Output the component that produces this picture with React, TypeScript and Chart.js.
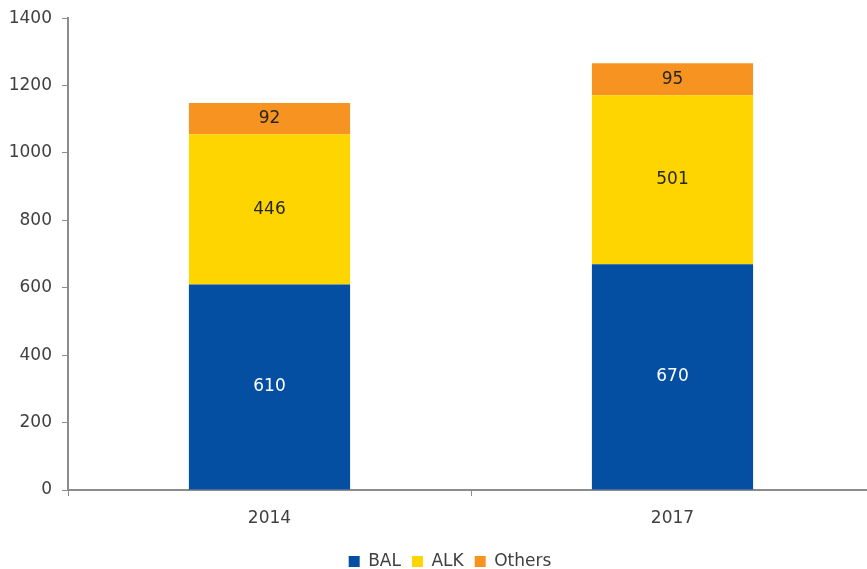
import React, { useEffect, useRef } from "react";
import { Chart, registerables } from "chart.js";

Chart.register(...registerables);

const categories = ["2014", "2017"];
const balValues = [610, 670];
const alkValues = [446, 501];
const othersValues = [92, 95];
const seriesNames = ["BAL", "ALK", "Others"];
const yTicks = [0, 200, 400, 600, 800, 1000, 1200, 1400];

const FONT = "'DejaVu Sans', sans-serif";
const AXIS = "#8c8c8c";

const labelPlugin = {
  id: "barLabels",
  afterLayout(chart: any) {
    const lg = chart.legend;
    if (lg) {
      lg.left += 13;
      lg.right += 13;
    }
  },
  afterDatasetsDraw(chart: any) {
    const ctx = chart.ctx;
    ctx.save();
    ctx.font = `17px ${FONT}`;
    ctx.textAlign = "center";
    ctx.textBaseline = "middle";
    chart.data.datasets.forEach((ds: any, di: number) => {
      const meta = chart.getDatasetMeta(di);
      meta.data.forEach((el: any, i: number) => {
        const p = el.getProps(["x", "y", "base"], true);
        ctx.fillStyle = di === 0 ? "#ffffff" : "#262626";
        ctx.fillText(String(ds.data[i]), p.x, (p.y + p.base) / 2);
      });
    });
    ctx.restore();
  },
};

export default function App() {
  const ref = useRef<HTMLCanvasElement>(null);
  useEffect(() => {
    document.body.style.margin = "0";
    const chart = new Chart(ref.current!, {
      type: "bar",
      data: {
        labels: categories,
        datasets: [
          { label: seriesNames[0], data: balValues, backgroundColor: "#054FA3" },
          { label: seriesNames[1], data: alkValues, backgroundColor: "#FFD500" },
          { label: seriesNames[2], data: othersValues, backgroundColor: "#F79320" },
        ],
      },
      options: {
        responsive: false,
        animation: false,
        layout: { padding: { top: 15, left: 0, right: 0, bottom: 0 } },
        datasets: { bar: { categoryPercentage: 1, barPercentage: 0.4 } },
        plugins: {
          tooltip: { enabled: false },
          legend: {
            position: "bottom",
            labels: {
              boxWidth: 11,
              boxHeight: 11,
              padding: 11,
              color: "#404040",
              font: { family: FONT, size: 17 },
            },
          },
        },
        scales: {
          x: {
            stacked: true,
            grid: { offset: true, drawOnChartArea: false, drawTicks: true, tickLength: 6, color: AXIS },
            border: { display: true, color: AXIS, width: 2 },
            ticks: { color: "#404040", font: { family: FONT, size: 17 }, padding: 12 },
            afterFit: (s: any) => { s.height = 52; },
          },
          y: {
            stacked: true,
            min: 0,
            max: 1400,
            afterBuildTicks: (s: any) => { s.ticks = yTicks.map((v) => ({ value: v })); },
            grid: { drawOnChartArea: false, drawTicks: true, tickLength: 6, color: AXIS },
            border: { display: true, color: AXIS, width: 2 },
            ticks: {
              color: "#404040",
              font: { family: FONT, size: 17 },
              padding: 10,
              callback: (v: any) => String(v),
            },
            afterFit: (s: any) => { s.width = 68; },
          },
        },
      },
      plugins: [labelPlugin],
    });
    return () => chart.destroy();
  }, []);
  return (
    <div style={{ width: 867, height: 569, overflow: "hidden", position: "relative" }}>
      <canvas
        ref={ref}
        width={874}
        height={582}
        style={{ display: "block", position: "absolute", left: 0, top: -2 }}
      />
    </div>
  );
}
